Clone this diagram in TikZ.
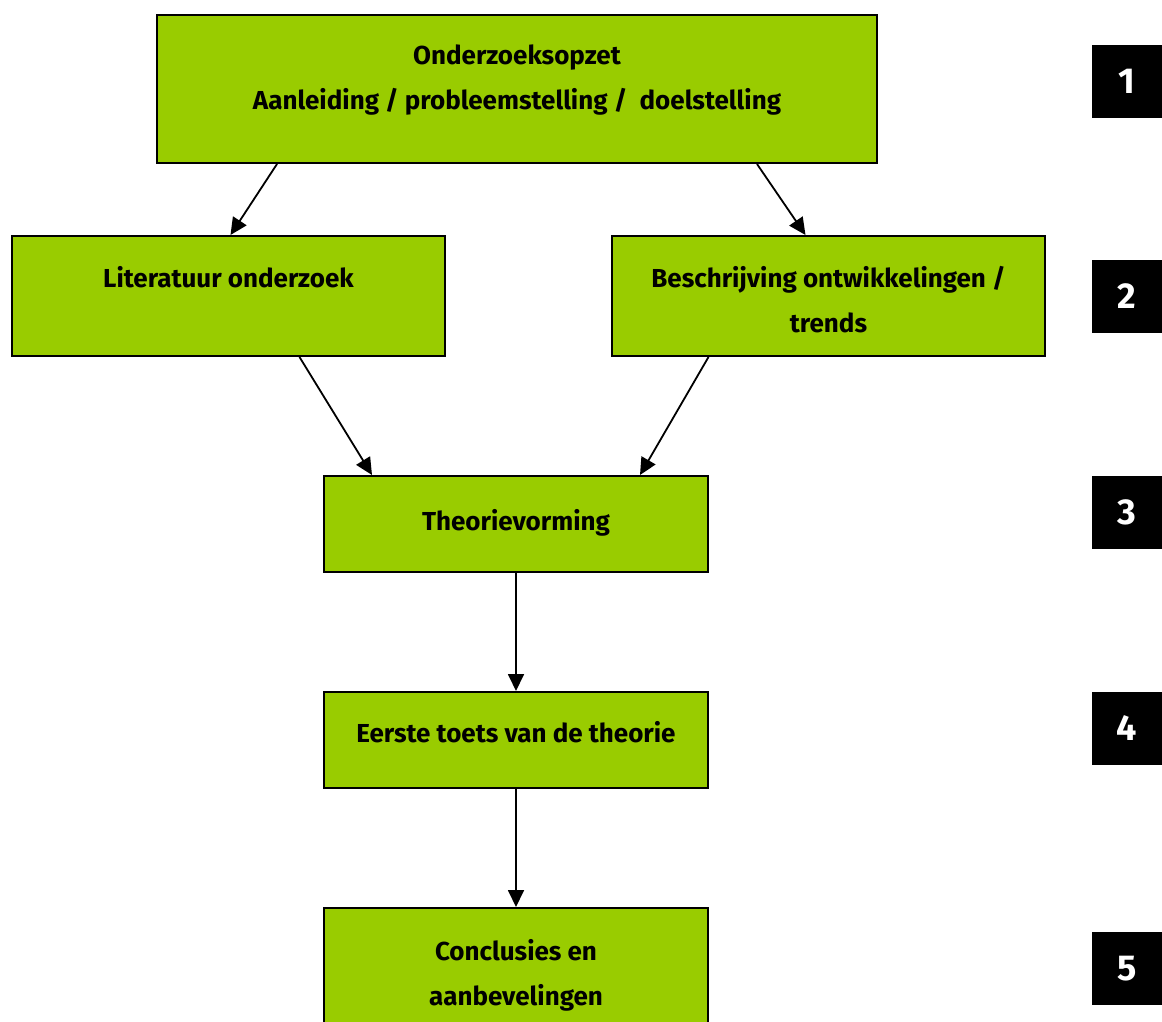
\documentclass[tikz,border=0pt]{standalone}
\usepackage{fontspec}
\setmainfont{Fira Sans}
\usetikzlibrary{arrows.meta,calc}
\definecolor{leaf}{HTML}{99CC00}
\begin{document}
\begin{tikzpicture}[x=1pt,y=-1pt,
  box/.style={draw=black, line width=2pt, fill=leaf, rectangle, inner sep=0pt},
  lbl/.style={font=\fontsize{26}{45}\selectfont\bfseries, align=center, anchor=north, inner sep=0pt, text=black},
  numbox/.style={fill=black, inner sep=0pt, minimum width=70pt, minimum height=73pt, text=white, font=\fontsize{36}{36}\selectfont\bfseries},
  flow/.style={line width=1.8pt, -{Triangle[length=17pt,width=16pt]}}]

  % page frame
  \path[use as bounding box, clip] (0,0) rectangle (1162,1021);
  \fill[white] (0,0) rectangle (1162,1021);

  % process boxes
  \node[box, minimum width=720pt, minimum height=148pt] (opzet) at (517,89) {};
  \node[box, minimum width=433pt, minimum height=120pt] (lit) at (228.5,296) {};
  \node[box, minimum width=433pt, minimum height=120pt] (besch) at (828.5,296) {};
  \node[box, minimum width=384pt, minimum height=96pt] (theo) at (516,524) {};
  \node[box, minimum width=384pt, minimum height=96pt] (toets) at (516,740) {};
  \node[box, minimum width=384pt, minimum height=140pt] (concl) at (516,978) {};

  % box texts
  \node[lbl] (opzet-t) at ($(opzet.north)+(0,31)$) {Onderzoeksopzet\\Aanleiding / probleemstelling /\ \ doelstelling};
  \node[lbl] (lit-t) at ($(lit.north)+(0,31)$) {Literatuur onderzoek};
  \node[lbl] (besch-t) at ($(besch.north)+(0,31)$) {Beschrijving ontwikkelingen /\\trends};
  \node[lbl] (theo-t) at ($(theo.north)+(0,34)$) {Theorievorming};
  \node[lbl] (toets-t) at ($(toets.north)+(0,30)$) {Eerste toets van de theorie};
  \node[lbl] (concl-t) at ($(concl.north)+(0,32)$) {Conclusies en\\aanbevelingen};

  % phase numbers
  \node[numbox] (n1) at (1127,81) {1};
  \node[numbox] (n2) at (1127,296) {2};
  \node[numbox] (n3) at (1127,512) {3};
  \node[numbox] (n4) at (1127,728) {4};
  \node[numbox] (n5) at (1127,968.5) {5};

  % connectors
  \draw[flow] ($(opzet.south)+(-240,0)$) -- ($(lit.north)+(2,0)$);
  \draw[flow] ($(opzet.south)+(240,0)$) -- ($(besch.north)+(-23,0)$);
  \draw[flow] ($(lit.south)+(71,0)$) -- ($(theo.north)+(-144,0)$);
  \draw[flow] ($(besch.south)+(-120,0)$) -- ($(theo.north)+(124,0)$);
  \draw[flow] (theo.south) -- (toets.north);
  \draw[flow] (toets.south) -- (concl.north);
\end{tikzpicture}
\end{document}
